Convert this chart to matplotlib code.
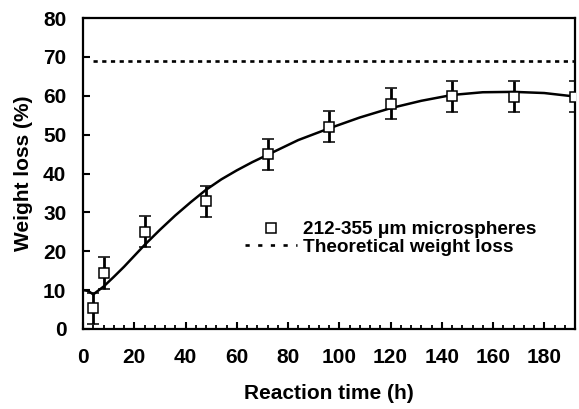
import matplotlib
matplotlib.use("Agg")
import matplotlib.pyplot as plt
from matplotlib.ticker import MultipleLocator
from matplotlib.lines import Line2D

plt.rcParams['font.family'] = ['Liberation Sans', 'DejaVu Sans']
plt.rcParams['font.weight'] = 'bold'

# measured data
time_h = [4, 8, 24, 48, 72, 96, 120, 144, 168, 192]
weight_loss = [5.3, 14.4, 25.0, 32.8, 44.9, 52.0, 57.9, 59.9, 59.8, 59.8]
err = [4, 4, 4, 4, 4, 4, 4, 4, 4, 4]

# fitted curve
fit_t = [0, 2, 4, 8, 12, 16, 20, 24, 30, 36, 42, 48, 54, 60, 66, 72, 84, 96, 108, 120, 132, 144, 156, 168, 180, 192]
fit_v = [10.0, 9.8, 8.9, 10.9, 13.4, 16.0, 18.8, 21.6, 25.5, 29.2, 32.6, 35.8, 38.5, 40.8, 42.9, 44.8, 48.6, 51.6, 54.4, 56.8, 58.7, 60.2, 60.9, 61.0, 60.7, 59.8]

theoretical = 69
theo_t = [4, 192]

xticks = [0, 20, 40, 60, 80, 100, 120, 140, 160, 180]
yticks = [0, 10, 20, 30, 40, 50, 60, 70, 80]

fig = plt.figure(figsize=(5.79, 4.09), dpi=100)
ax = fig.add_axes([83/579, (409-329)/409, 492/579, 311/409])

ax.plot(fit_t, fit_v, color='black', lw=1.8, zorder=3)
ax.errorbar(time_h, weight_loss, yerr=err, fmt='s', mfc='white', mec='black',
            mew=1.1, ms=7.2, ecolor='black', elinewidth=2.0, capsize=4,
            capthick=2.3, zorder=4, clip_on=True)
ax.plot(theo_t, [theoretical, theoretical], color='black', lw=1.9,
        linestyle=(0, (1.6, 1.7)), zorder=2)

ax.set_xlim(0, 192)
ax.set_ylim(0, 80)
ax.set_xticks(xticks)
ax.set_yticks(yticks)
ax.xaxis.set_minor_locator(MultipleLocator(4))
ax.tick_params(axis='both', which='major', direction='in', length=5, width=1.5, labelsize=15)
ax.tick_params(axis='x', which='minor', direction='in', length=3, width=1.3)
ax.tick_params(axis='x', which='major', pad=14)
ax.tick_params(axis='y', which='major', pad=12)
ax.tick_params(top=False, right=False)
for s in ax.spines.values():
    s.set_linewidth(1.6)

ax.set_xlabel('Reaction time (h)', fontsize=15, fontweight='bold', labelpad=12)
ax.set_ylabel('Weight loss (%)', fontsize=15, fontweight='bold', labelpad=7)

handles = [Line2D([], [], marker='s', ls='none', mfc='white', mec='black', mew=1.1, ms=7.2),
           Line2D([], [], color='black', lw=1.9, linestyle=(0, (1.6, 3.2)))]
leg = ax.legend(handles, ['212-355 μm microspheres', 'Theoretical weight loss'],
                loc='center left', bbox_to_anchor=(0.329, 0.291), frameon=False,
                borderpad=0, borderaxespad=0, handlelength=2.75, handletextpad=0.3,
                labelspacing=0.0, prop={'size': 13.7, 'weight': 'bold'})

fig.savefig('out.png', dpi=100)
